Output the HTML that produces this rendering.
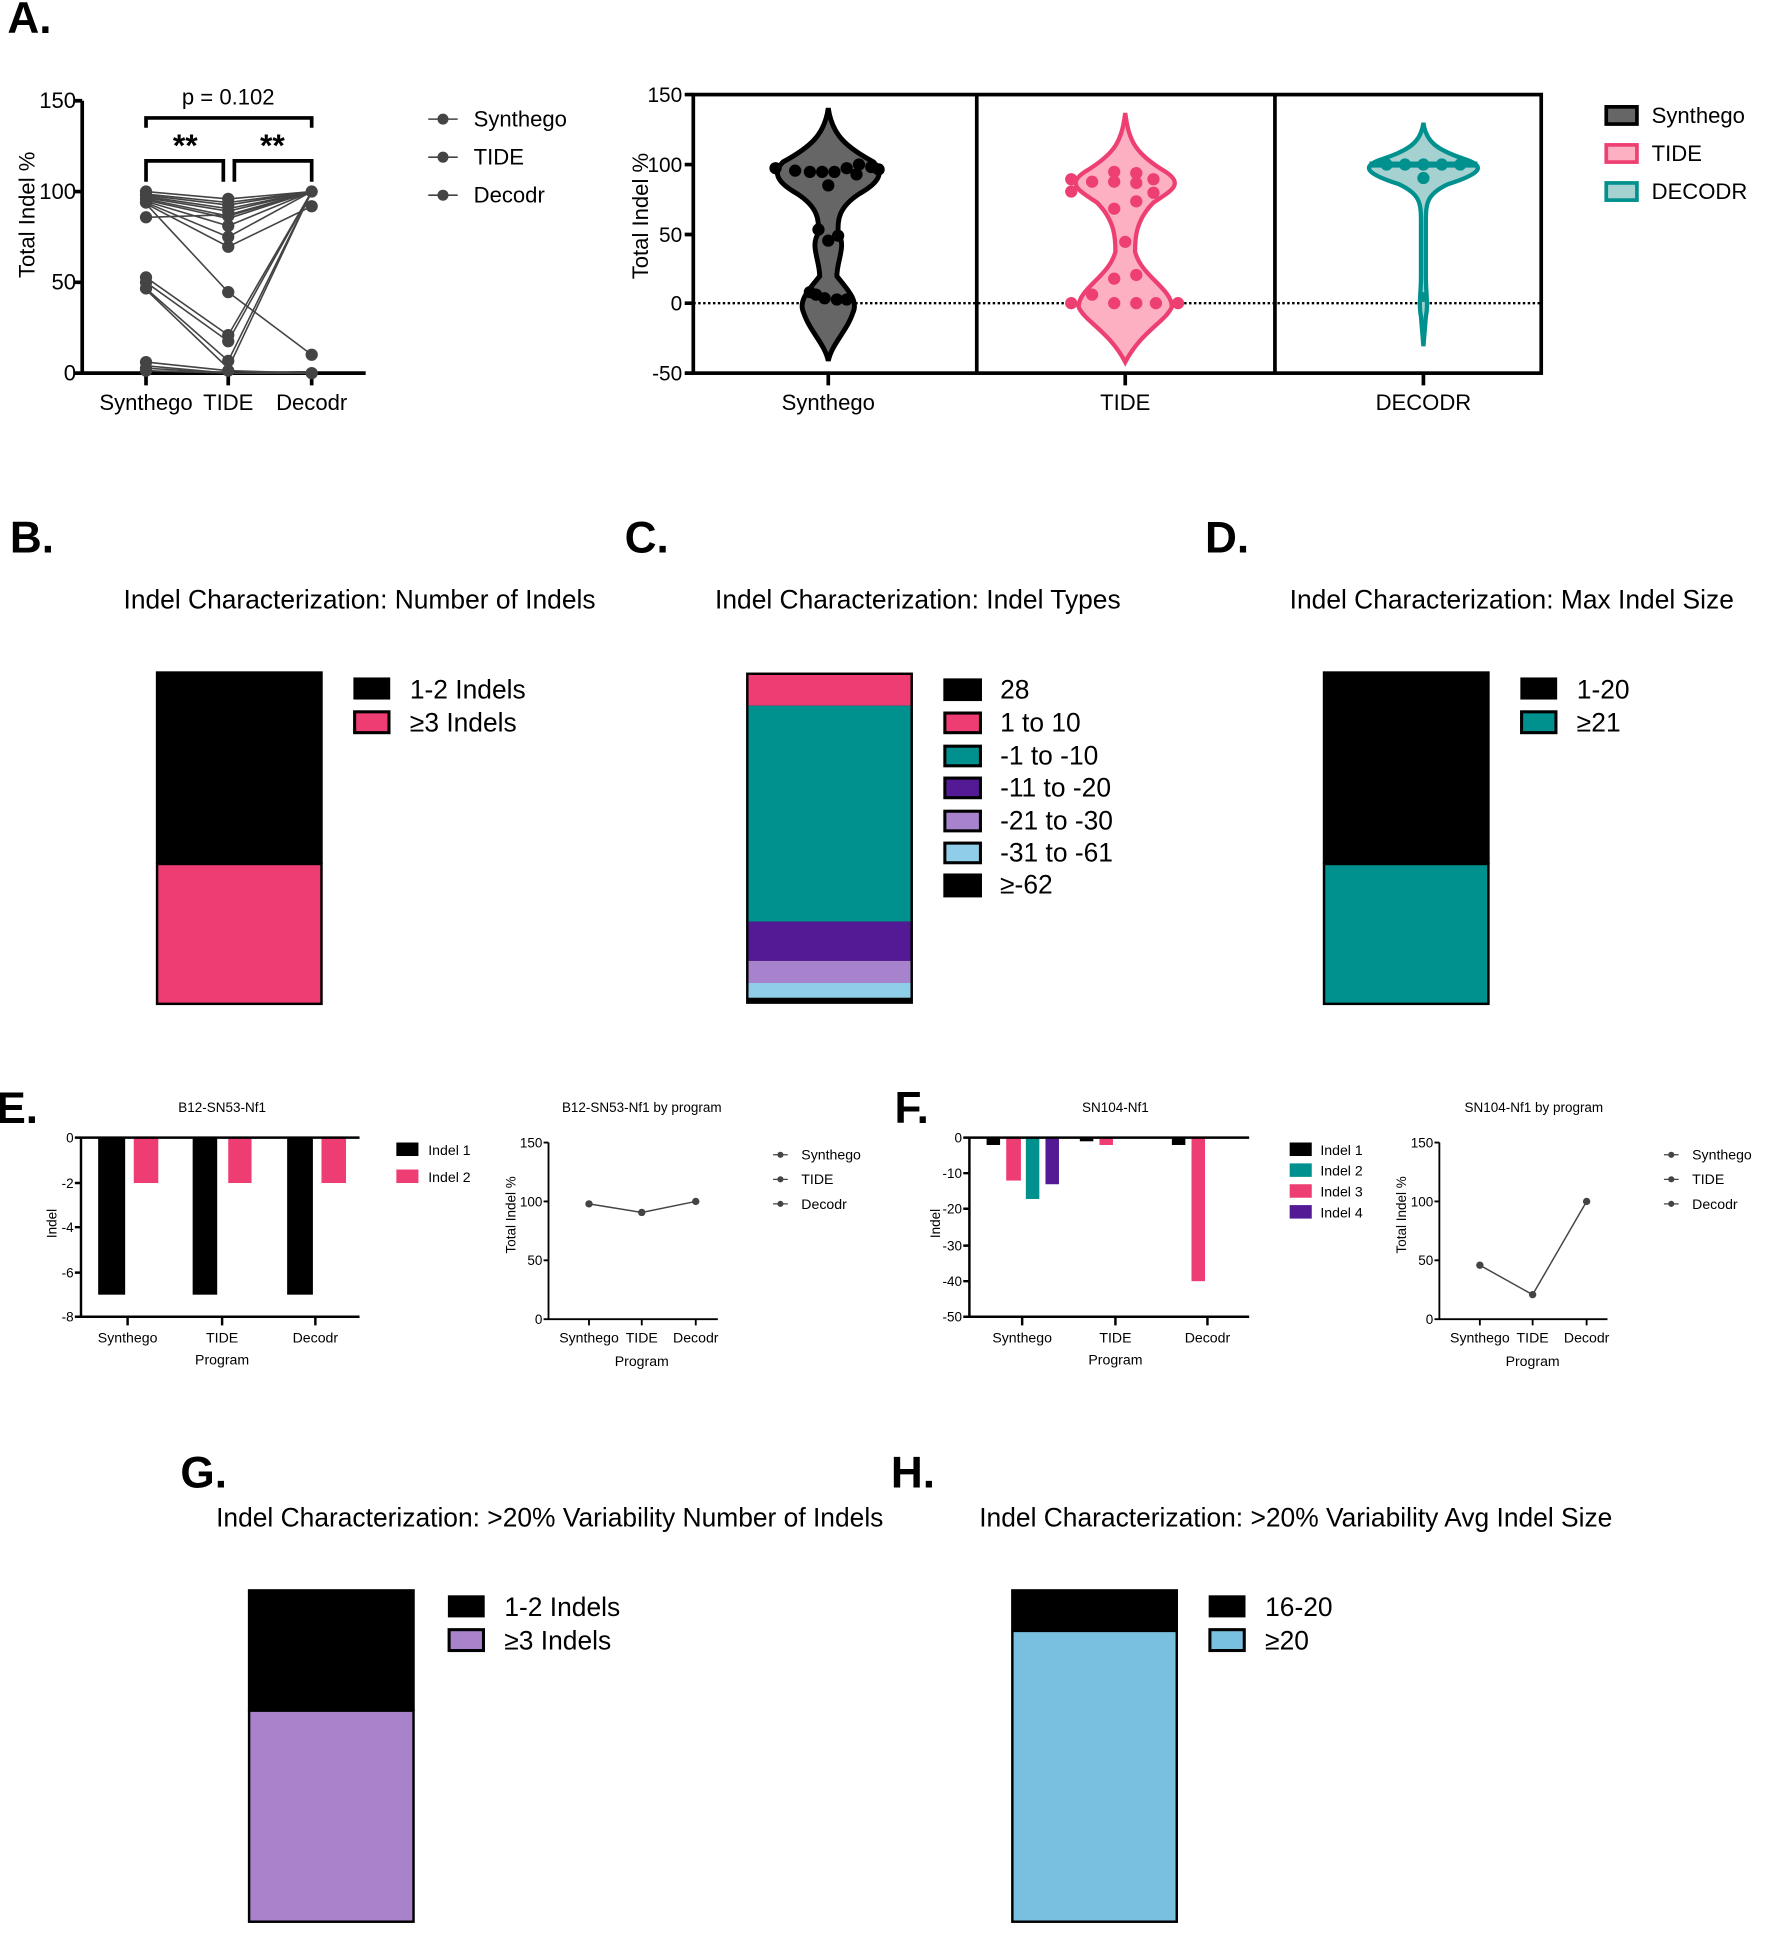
<!DOCTYPE html>
<html><head><meta charset="utf-8"><style>html,body{margin:0;padding:0;background:#fff}svg{display:block}text{font-family:"Liberation Sans",Arial,sans-serif;fill:#000}</style></head>
<body>
<svg width="1767" height="1939" viewBox="0 0 1440 1580" xmlns="http://www.w3.org/2000/svg">
<g font-weight="bold" font-size="36">
<text x="6" y="27">A.</text>
<text x="8" y="450">B.</text>
<text x="509" y="450">C.</text>
<text x="982" y="450">D.</text>
<text x="-3" y="915">E.</text>
<text x="729" y="915">F.</text>
<text x="147" y="1212">G.</text>
<text x="726" y="1212">H.</text>
</g>

<g stroke="#000" stroke-width="3" fill="none">
<path d="M67 82 V304 H298"/>
<path d="M60 82H67 M60 156H67 M60 230H67 M60 304H67"/>
<path d="M119 304v10 M186 304v10 M254 304v10"/>
<path d="M119 104V96H254V104"/>
<path d="M119 148V131H182V148 M191 148V131H254V148"/>
</g>
<g font-size="18" text-anchor="end"><text x="62" y="88">150</text><text x="62" y="162">100</text><text x="62" y="236">50</text><text x="62" y="310">0</text></g>
<g font-size="18" text-anchor="middle"><text x="119" y="334">Synthego</text><text x="186" y="334">TIDE</text><text x="254" y="334">Decodr</text><text x="186" y="85">p = 0.102</text></g>
<g font-size="26" font-weight="bold" text-anchor="middle"><text x="151" y="127">**</text><text x="222" y="127">**</text></g>
<text font-size="18" text-anchor="middle" transform="translate(28,175) rotate(-90)">Total Indel %</text>
<g stroke="#444" stroke-width="1.3" fill="none">
<polyline points="119,156 186,162 254,156"/><polyline points="119,158 186,165 254,156"/><polyline points="119,159 186,167 254,156"/>
<polyline points="119,160 186,170 254,156"/><polyline points="119,161 186,172 254,156"/><polyline points="119,162 186,176 254,156"/>
<polyline points="119,163 186,178 254,156"/><polyline points="119,164 186,184 254,156"/><polyline points="119,165 186,193 254,156"/>
<polyline points="119,166 186,201 254,168"/><polyline points="119,177 186,175 254,156"/><polyline points="119,166 186,238 254,289"/>
<polyline points="119,226 186,273 254,156"/><polyline points="119,230 186,278 254,156"/><polyline points="119,235 186,294 254,156"/>
<polyline points="119,236 186,300 254,156"/><polyline points="119,295 186,302 254,304"/><polyline points="119,298 186,304 254,304"/>
<polyline points="119,300 186,304 254,304"/><polyline points="119,302 186,304 254,304"/>
</g>
<g fill="#444">
<circle cx="119" cy="156" r="5"/><circle cx="119" cy="159" r="5"/><circle cx="119" cy="162" r="5"/><circle cx="119" cy="165" r="5"/><circle cx="119" cy="177" r="5"/>
<circle cx="119" cy="226" r="5"/><circle cx="119" cy="230" r="5"/><circle cx="119" cy="235" r="5"/><circle cx="119" cy="295" r="5"/><circle cx="119" cy="300" r="5"/><circle cx="119" cy="302" r="5"/>
<circle cx="186" cy="162" r="5"/><circle cx="186" cy="167" r="5"/><circle cx="186" cy="172" r="5"/><circle cx="186" cy="176" r="5"/><circle cx="186" cy="184" r="5"/><circle cx="186" cy="193" r="5"/><circle cx="186" cy="201" r="5"/><circle cx="186" cy="238" r="5"/><circle cx="186" cy="273" r="5"/><circle cx="186" cy="278" r="5"/><circle cx="186" cy="294" r="5"/><circle cx="186" cy="302" r="5"/>
<circle cx="254" cy="156" r="5"/><circle cx="254" cy="168" r="5"/><circle cx="254" cy="289" r="5"/><circle cx="254" cy="304" r="5"/>
</g>
<g stroke="#444" stroke-width="1.3"><path d="M349 97h24 M349 128h24 M349 159h24"/></g>
<g fill="#444"><circle cx="361" cy="97" r="4.5"/><circle cx="361" cy="128" r="4.5"/><circle cx="361" cy="159" r="4.5"/></g>
<g font-size="18"><text x="386" y="103">Synthego</text><text x="386" y="134">TIDE</text><text x="386" y="165">Decodr</text></g>

<path d="M565 247H1256" stroke="#000" stroke-width="2" stroke-dasharray="2,2"/>
<path d="M675 88 C678 110,690 120,712 132 C720 140,718 148,700 158 C682 170,683 180,683 190 C690 200,682 212,682 225 C690 235,700 245,695 255 C690 270,678 280,675 294 C672 280,660 270,655 255 C650 245,660 235,668 225 C668 212,660 200,667 190 C667 180,668 170,650 158 C632 148,630 140,638 132 C660 120,672 110,675 88Z" fill="#666" stroke="#000" stroke-width="4"/>
<path d="M917 92 C920 115,925 125,950 140 C965 150,955 155,940 165 C925 180,925 195,925 205 C930 225,955 235,955 250 C950 262,930 270,917 295 C904 270,884 262,879 250 C879 235,904 225,909 205 C909 195,909 180,894 165 C879 155,869 150,884 140 C909 125,914 115,917 92Z" fill="#FCB0C2" stroke="#EE3F72" stroke-width="3.5"/>
<path d="M1160 100 C1162 115,1170 122,1195 130 C1212 136,1205 142,1180 150 C1163 158,1162 165,1162 180 L1162 225 C1162 240,1164 248,1162 258 L1160 282 L1158 258 C1156 248,1158 240,1158 225 L1158 180 C1158 165,1157 158,1140 150 C1115 142,1108 136,1125 130 C1150 122,1158 115,1160 100Z" fill="#A5D2D0" stroke="#00918F" stroke-width="3.5"/>
<path d="M1116 134H1204" stroke="#00918F" stroke-width="5"/>
<g fill="#000">
<circle cx="632" cy="137" r="5"/><circle cx="648" cy="139" r="5"/><circle cx="660" cy="140" r="5"/><circle cx="670" cy="140" r="5"/><circle cx="680" cy="140" r="5"/><circle cx="690" cy="137" r="5"/><circle cx="700" cy="134" r="5"/><circle cx="710" cy="136" r="5"/><circle cx="716" cy="138" r="5"/><circle cx="698" cy="142" r="5"/><circle cx="675" cy="151" r="5"/>
<circle cx="667" cy="187" r="5"/><circle cx="683" cy="192" r="5"/><circle cx="675" cy="196" r="5"/><circle cx="665" cy="240" r="5"/><circle cx="672" cy="243" r="5"/><circle cx="682" cy="244" r="5"/><circle cx="690" cy="244" r="5"/><circle cx="660" cy="238" r="5"/>
</g>
<g fill="#EE3F72">
<circle cx="908" cy="140" r="5"/><circle cx="926" cy="141" r="5"/><circle cx="940" cy="146" r="5"/><circle cx="873" cy="146" r="5"/><circle cx="890" cy="148" r="5"/><circle cx="908" cy="148" r="5"/><circle cx="926" cy="149" r="5"/><circle cx="873" cy="156" r="5"/><circle cx="940" cy="157" r="5"/><circle cx="926" cy="164" r="5"/><circle cx="908" cy="170" r="5"/>
<circle cx="917" cy="197" r="5"/><circle cx="908" cy="227" r="5"/><circle cx="926" cy="224" r="5"/><circle cx="890" cy="240" r="5"/>
<circle cx="873" cy="247" r="5"/><circle cx="908" cy="247" r="5"/><circle cx="926" cy="247" r="5"/><circle cx="942" cy="247" r="5"/><circle cx="960" cy="247" r="5"/>
</g>
<g fill="#00918F"><circle cx="1130" cy="134" r="5"/><circle cx="1145" cy="134" r="5"/><circle cx="1160" cy="134" r="5"/><circle cx="1175" cy="134" r="5"/><circle cx="1190" cy="134" r="5"/><circle cx="1160" cy="145" r="5"/><circle cx="1160" cy="242" r="4"/></g>
<g stroke="#000" stroke-width="3" fill="none"><rect x="565" y="77" width="691" height="227"/><path d="M796 77V304 M1039 77V304"/><path d="M558 77h7 M558 134h7 M558 191h7 M558 247h7 M558 304h7 M675 304v10 M917 304v10 M1160 304v10"/></g>
<g font-size="17" text-anchor="end"><text x="556" y="83">150</text><text x="556" y="140">100</text><text x="556" y="197">50</text><text x="556" y="253">0</text><text x="556" y="310">-50</text></g>
<g font-size="18" text-anchor="middle"><text x="675" y="334">Synthego</text><text x="917" y="334">TIDE</text><text x="1160" y="334">DECODR</text></g>
<text font-size="18" text-anchor="middle" transform="translate(528,176) rotate(-90)">Total Indel %</text>
<rect x="1309" y="87" width="25" height="14" fill="#666" stroke="#000" stroke-width="3"/>
<rect x="1309" y="118" width="25" height="14" fill="#FCB0C2" stroke="#EE3F72" stroke-width="3"/>
<rect x="1309" y="149" width="25" height="14" fill="#A5D2D0" stroke="#00918F" stroke-width="3"/>
<g font-size="18"><text x="1346" y="100">Synthego</text><text x="1346" y="131">TIDE</text><text x="1346" y="162">DECODR</text></g>

<text x="293" y="496" font-size="21.5" text-anchor="middle">Indel Characterization: Number of Indels</text>
<rect x="127" y="547" width="136" height="157" fill="#000"/>
<rect x="128" y="704" width="134" height="114" fill="#EE3D73" stroke="#000" stroke-width="2"/>
<rect x="288" y="552" width="30" height="18" fill="#000"/>
<rect x="289" y="580" width="28" height="17" fill="#EE3D73" stroke="#000" stroke-width="2.5"/>
<g font-size="21.5"><text x="334" y="569">1-2 Indels</text><text x="334" y="596">≥3 Indels</text></g>

<text x="748" y="496" font-size="21.5" text-anchor="middle">Indel Characterization: Indel Types</text>
<rect x="608" y="548" width="136" height="270" fill="#000"/>
<rect x="610" y="550" width="132" height="25" fill="#EE3D73"/>
<rect x="610" y="575" width="132" height="176" fill="#00918F"/>
<rect x="610" y="751" width="132" height="32" fill="#541A95"/>
<rect x="610" y="783" width="132" height="18" fill="#A783CD"/>
<rect x="610" y="801" width="132" height="12" fill="#8FCDE8"/>
<g stroke="#000" stroke-width="2.5">
<rect x="770" y="554" width="29" height="16" fill="#000"/>
<rect x="770" y="581" width="29" height="16" fill="#EE3D73"/>
<rect x="770" y="608" width="29" height="16" fill="#00918F"/>
<rect x="770" y="634" width="29" height="16" fill="#541A95"/>
<rect x="770" y="661" width="29" height="16" fill="#A783CD"/>
<rect x="770" y="687" width="29" height="16" fill="#8FCDE8"/>
<rect x="770" y="713" width="29" height="17" fill="#000"/>
</g>
<g font-size="21.5"><text x="815" y="569">28</text><text x="815" y="596">1 to 10</text><text x="815" y="623">-1 to -10</text><text x="815" y="649">-11 to -20</text><text x="815" y="676">-21 to -30</text><text x="815" y="702">-31 to -61</text><text x="815" y="728">≥-62</text></g>

<text x="1232" y="496" font-size="21.5" text-anchor="middle">Indel Characterization: Max Indel Size</text>
<rect x="1078" y="547" width="136" height="157" fill="#000"/>
<rect x="1079" y="704" width="134" height="114" fill="#00918F" stroke="#000" stroke-width="2"/>
<rect x="1239" y="552" width="30" height="18" fill="#000"/>
<rect x="1240" y="580" width="28" height="17" fill="#00918F" stroke="#000" stroke-width="2.5"/>
<g font-size="21.5"><text x="1285" y="569">1-20</text><text x="1285" y="596">≥21</text></g>

<text x="181" y="906" font-size="11" text-anchor="middle">B12-SN53-Nf1</text>
<rect x="80" y="927" width="22" height="128" fill="#000"/><rect x="109" y="927" width="20" height="37" fill="#EE3D73"/>
<rect x="157" y="927" width="20" height="128" fill="#000"/><rect x="186" y="927" width="19" height="37" fill="#EE3D73"/>
<rect x="234" y="927" width="21" height="128" fill="#000"/><rect x="262" y="927" width="20" height="37" fill="#EE3D73"/>
<g stroke="#000" stroke-width="2" fill="none"><path d="M66 927H293 M66 927V1073H293 M61 927h5 M61 964h5 M61 1000h5 M61 1037h5 M61 1073h5 M104 1073v7 M181 1073v7 M257 1073v7"/></g>
<g font-size="11" text-anchor="end"><text x="60" y="931">0</text><text x="60" y="968">-2</text><text x="60" y="1004">-4</text><text x="60" y="1041">-6</text><text x="60" y="1077">-8</text></g>
<g font-size="11.5" text-anchor="middle"><text x="104" y="1094">Synthego</text><text x="181" y="1094">TIDE</text><text x="257" y="1094">Decodr</text><text x="181" y="1112">Program</text></g>
<text font-size="11" text-anchor="middle" transform="translate(46,997) rotate(-90)">Indel</text>
<rect x="323" y="931" width="18" height="11" fill="#000"/><rect x="323" y="953" width="18" height="11" fill="#EE3D73"/>
<g font-size="11.5"><text x="349" y="941">Indel 1</text><text x="349" y="963">Indel 2</text></g>

<text x="523" y="906" font-size="11" text-anchor="middle">B12-SN53-Nf1 by program</text>
<g stroke="#000" stroke-width="1.5" fill="none"><path d="M447 931V1075H585 M443 931h4 M443 979h4 M443 1027h4 M443 1075h4 M480 1075v5 M523 1075v5 M567 1075v5"/></g>
<polyline points="480,981 523,988 567,979" stroke="#444" stroke-width="1.2" fill="none"/>
<g fill="#444"><circle cx="480" cy="981" r="3"/><circle cx="523" cy="988" r="3"/><circle cx="567" cy="979" r="3"/></g>
<g font-size="11" text-anchor="end"><text x="442" y="935">150</text><text x="442" y="983">100</text><text x="442" y="1031">50</text><text x="442" y="1079">0</text></g>
<g font-size="11.5" text-anchor="middle"><text x="480" y="1094">Synthego</text><text x="523" y="1094">TIDE</text><text x="567" y="1094">Decodr</text><text x="523" y="1113">Program</text></g>
<text font-size="11" text-anchor="middle" transform="translate(420,990) rotate(-90)">Total Indel %</text>
<g stroke="#444" stroke-width="1"><path d="M630 941h12 M630 961h12 M630 981h12"/></g>
<g fill="#444"><circle cx="636" cy="941" r="2.5"/><circle cx="636" cy="961" r="2.5"/><circle cx="636" cy="981" r="2.5"/></g>
<g font-size="11.5"><text x="653" y="945">Synthego</text><text x="653" y="965">TIDE</text><text x="653" y="985">Decodr</text></g>

<text x="909" y="906" font-size="11" text-anchor="middle">SN104-Nf1</text>
<rect x="804" y="927" width="11" height="6" fill="#000"/><rect x="820" y="927" width="12" height="35" fill="#EE3D73"/><rect x="836" y="927" width="11" height="50" fill="#00918F"/><rect x="852" y="927" width="11" height="38" fill="#541A95"/>
<rect x="880" y="927" width="11" height="3" fill="#000"/><rect x="896" y="927" width="11" height="6" fill="#EE3D73"/>
<rect x="955" y="927" width="11" height="6" fill="#000"/><rect x="971" y="927" width="11" height="117" fill="#EE3D73"/>
<g stroke="#000" stroke-width="2" fill="none"><path d="M790 927H1018 M790 927V1073H1018 M785 927h5 M785 956h5 M785 985h5 M785 1015h5 M785 1044h5 M785 1073h5 M833 1073v7 M909 1073v7 M984 1073v7"/></g>
<g font-size="11" text-anchor="end"><text x="784" y="931">0</text><text x="784" y="960">-10</text><text x="784" y="989">-20</text><text x="784" y="1019">-30</text><text x="784" y="1048">-40</text><text x="784" y="1077">-50</text></g>
<g font-size="11.5" text-anchor="middle"><text x="833" y="1094">Synthego</text><text x="909" y="1094">TIDE</text><text x="984" y="1094">Decodr</text><text x="909" y="1112">Program</text></g>
<text font-size="11" text-anchor="middle" transform="translate(766,997) rotate(-90)">Indel</text>
<rect x="1051" y="931" width="18" height="11" fill="#000"/><rect x="1051" y="948" width="18" height="11" fill="#00918F"/><rect x="1051" y="965" width="18" height="11" fill="#EE3D73"/><rect x="1051" y="982" width="18" height="11" fill="#541A95"/>
<g font-size="11.5"><text x="1076" y="941">Indel 1</text><text x="1076" y="958">Indel 2</text><text x="1076" y="975">Indel 3</text><text x="1076" y="992">Indel 4</text></g>

<text x="1250" y="906" font-size="11" text-anchor="middle">SN104-Nf1 by program</text>
<g stroke="#000" stroke-width="1.5" fill="none"><path d="M1173 931V1075H1310 M1169 931h4 M1169 979h4 M1169 1027h4 M1169 1075h4 M1206 1075v5 M1249 1075v5 M1293 1075v5"/></g>
<polyline points="1206,1031 1249,1055 1293,979" stroke="#444" stroke-width="1.2" fill="none"/>
<g fill="#444"><circle cx="1206" cy="1031" r="3"/><circle cx="1249" cy="1055" r="3"/><circle cx="1293" cy="979" r="3"/></g>
<g font-size="11" text-anchor="end"><text x="1168" y="935">150</text><text x="1168" y="983">100</text><text x="1168" y="1031">50</text><text x="1168" y="1079">0</text></g>
<g font-size="11.5" text-anchor="middle"><text x="1206" y="1094">Synthego</text><text x="1249" y="1094">TIDE</text><text x="1293" y="1094">Decodr</text><text x="1249" y="1113">Program</text></g>
<text font-size="11" text-anchor="middle" transform="translate(1146,990) rotate(-90)">Total Indel %</text>
<g stroke="#444" stroke-width="1"><path d="M1356 941h12 M1356 961h12 M1356 981h12"/></g>
<g fill="#444"><circle cx="1362" cy="941" r="2.5"/><circle cx="1362" cy="961" r="2.5"/><circle cx="1362" cy="981" r="2.5"/></g>
<g font-size="11.5"><text x="1379" y="945">Synthego</text><text x="1379" y="965">TIDE</text><text x="1379" y="985">Decodr</text></g>

<text x="448" y="1244" font-size="21.5" text-anchor="middle">Indel Characterization: &gt;20% Variability Number of Indels</text>
<rect x="202" y="1295" width="136" height="99" fill="#000"/>
<rect x="203" y="1394" width="134" height="172" fill="#A982CC" stroke="#000" stroke-width="2"/>
<rect x="365" y="1300" width="30" height="18" fill="#000"/>
<rect x="366" y="1328" width="28" height="17" fill="#A982CC" stroke="#000" stroke-width="2.5"/>
<g font-size="21.5"><text x="411" y="1317">1-2 Indels</text><text x="411" y="1344">≥3 Indels</text></g>

<text x="1056" y="1244" font-size="21.5" text-anchor="middle">Indel Characterization: &gt;20% Variability Avg Indel Size</text>
<rect x="824" y="1295" width="136" height="34" fill="#000"/>
<rect x="825" y="1329" width="134" height="237" fill="#79C0E0" stroke="#000" stroke-width="2"/>
<rect x="985" y="1300" width="30" height="18" fill="#000"/>
<rect x="986" y="1328" width="28" height="17" fill="#79C0E0" stroke="#000" stroke-width="2.5"/>
<g font-size="21.5"><text x="1031" y="1317">16-20</text><text x="1031" y="1344">≥20</text></g>
</svg>
</body></html>
